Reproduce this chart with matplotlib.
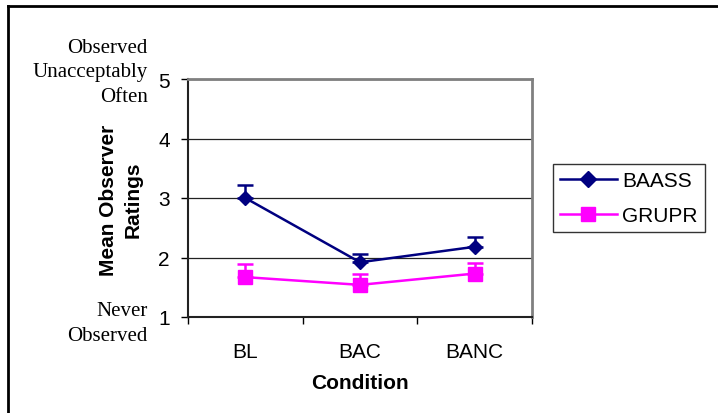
import numpy as np
import matplotlib
matplotlib.use("Agg")
import matplotlib.pyplot as plt
from matplotlib.lines import Line2D

# data
conditions = ['BL', 'BAC', 'BANC']
baass_mean = [3.0, 1.92, 2.18]
baass_err = [0.22, 0.14, 0.16]
grupr_mean = [1.67, 1.54, 1.73]
grupr_err = [0.22, 0.19, 0.17]
yticks = [1, 2, 3, 4, 5]

plt.rcParams['font.family'] = ['Liberation Sans', 'DejaVu Sans']

fig = plt.figure(figsize=(7.18, 4.14), dpi=100)
ax = fig.add_axes([188 / 718, 1 - 318 / 414, (532 - 188) / 718, (318 - 80) / 414])

x = np.arange(1, len(conditions) + 1)
navy = '#000080'
magenta = '#FF00FF'

ax.errorbar(x, baass_mean, yerr=[np.zeros(3), baass_err], color=navy, lw=1.8,
            marker='D', ms=7, capsize=6, capthick=1.8, elinewidth=1.8, zorder=4)
ax.errorbar(x, grupr_mean, yerr=[np.zeros(3), grupr_err], color=magenta, lw=1.8,
            marker='s', ms=10, capsize=6, capthick=1.8, elinewidth=1.8, zorder=3)

ax.set_xlim(0.5, 3.5)
ax.set_ylim(1, 5)
ax.set_yticks(yticks)
ax.set_xticks([0.5, 1.5, 2.5, 3.5])
ax.set_xticklabels([])
ax.set_xticks(x, minor=True)
ax.set_xticklabels(conditions, minor=True)
ax.tick_params(axis='x', which='minor', length=0, labelsize=15, pad=18)
ax.tick_params(axis='x', which='major', length=5, width=1, direction='out')
ax.tick_params(axis='y', length=5, width=1, direction='out', labelsize=15, pad=8)

ax.yaxis.grid(True, color='#222222', lw=0.9)
ax.set_axisbelow(True)
for s in ['left', 'bottom']:
    ax.spines[s].set_color('#222222')
    ax.spines[s].set_linewidth(1.5)
for s in ['top', 'right']:
    ax.spines[s].set_color('#808080')
    ax.spines[s].set_linewidth(2)

ax.set_xlabel('Condition', fontsize=15, fontweight='bold', labelpad=9)

fig.text(121 / 718, 1 - 200 / 414, 'Mean Observer\nRatings', rotation=90, ha='center',
         va='center', fontsize=15, fontweight='bold', multialignment='center', linespacing=1.35)

fig.text(148 / 718, 1 - 73 / 414, 'Observed\nUnacceptably\nOften', ha='right', va='center',
         fontsize=15, family='Liberation Serif', multialignment='right', linespacing=1.4)
fig.text(148 / 718, 1 - 324 / 414, 'Never\nObserved', ha='right', va='center',
         fontsize=15, family='Liberation Serif', multialignment='right', linespacing=1.4)

handles = [Line2D([], [], color=navy, lw=1.8, marker='D', ms=8),
           Line2D([], [], color=magenta, lw=1.8, marker='s', ms=10)]
leg = fig.legend(handles, ['BAASS', 'GRUPR'], loc='upper left',
                 bbox_to_anchor=(553 / 718, 1 - 165 / 414), fontsize=15,
                 frameon=True, fancybox=False, handlelength=2.7, borderpad=0.35,
                 labelspacing=0.75, handletextpad=0.25, borderaxespad=0)
leg.get_frame().set_edgecolor('black')
leg.get_frame().set_linewidth(1)

# outer frame (top and left edges only)
fig.add_artist(Line2D([8 / 718, 1], [1 - 7 / 414, 1 - 7 / 414], color='black', lw=2,
                      transform=fig.transFigure))
fig.add_artist(Line2D([8 / 718, 8 / 718], [0, 1 - 7 / 414], color='black', lw=2,
                      transform=fig.transFigure))

fig.savefig('out.png', dpi=100)
